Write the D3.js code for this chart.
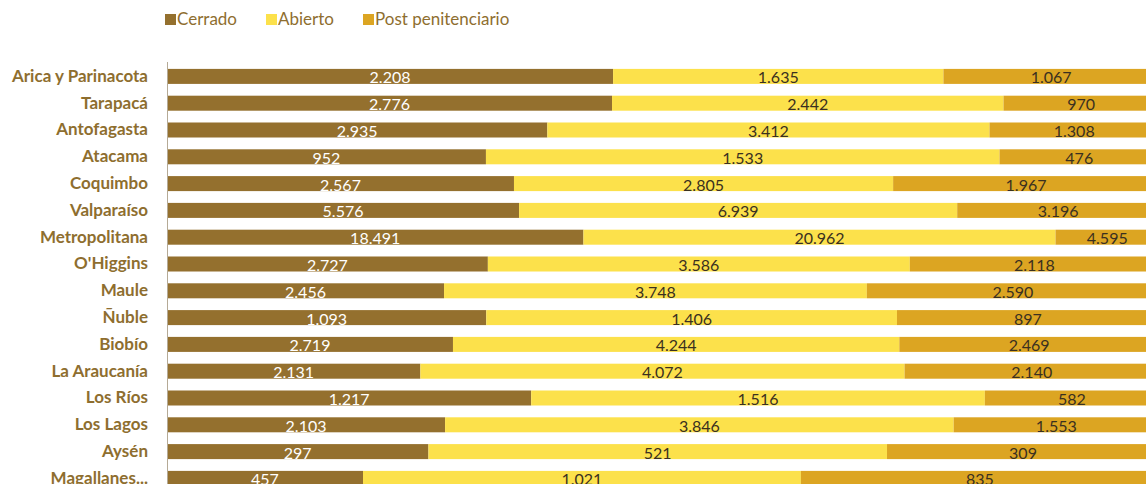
<!DOCTYPE html>
<html>
<head>
<meta charset="utf-8">
<script src="https://cdn.jsdelivr.net/npm/d3@7"></script>
<style>
  body { margin: 0; background: #fff; }
  svg { display: block; overflow: hidden; }
</style>
</head>
<body>
<script>
var width = 1146;
var height = 484;

var regions = ['Arica y Parinacota', 'Tarapacá', 'Antofagasta', 'Atacama', 'Coquimbo',
  'Valparaíso', 'Metropolitana', "O'Higgins", 'Maule', 'Ñuble', 'Biobío',
  'La Araucanía', 'Los Ríos', 'Los Lagos', 'Aysén', 'Magallanes...'];
var cerrado = [2208, 2776, 2935, 952, 2567, 5576, 18491, 2727, 2456, 1093, 2719, 2131, 1217, 2103, 297, 457];
var abierto = [1635, 2442, 3412, 1533, 2805, 6939, 20962, 3586, 3748, 1406, 4244, 4072, 1516, 3846, 521, 1021];
var post = [1067, 970, 1308, 476, 1967, 3196, 4595, 2118, 2590, 897, 2469, 2140, 582, 1553, 309, 835];
var seriesNames = ['Cerrado', 'Abierto', 'Post penitenciario'];
var colors = ['#94702e', '#fce14b', '#dca522'];
var textColors = ['#ffffff', '#3a3020', '#3a3020'];

var locale = d3.formatLocale({decimal: ',', thousands: '.', grouping: [3], currency: ['$', '']});
var fmt = locale.format(',d');

var svg = d3.select('body').append('svg')
  .attr('width', width)
  .attr('height', height);

var x = d3.scaleLinear().domain([0, 1]).range([167, 1159]);
var y = d3.scaleBand().domain(regions).range([63, 63 + 16 * 26.8]).paddingInner(0.44).paddingOuter(0.22);

var rows = regions.map(function(r, i) {
  var vals = [cerrado[i], abierto[i], post[i]];
  var total = d3.sum(vals);
  var acc = 0;
  return vals.map(function(v, k) {
    var seg = {region: r, k: k, value: v, x0: acc / total, x1: (acc + v) / total};
    acc += v;
    return seg;
  });
});

var segs = svg.append('g').selectAll('g')
  .data(rows)
  .join('g');

segs.selectAll('rect')
  .data(function(d) { return d; })
  .join('rect')
  .attr('x', function(d) { return x(d.x0); })
  .attr('y', function(d) { return y(d.region); })
  .attr('width', function(d) { return x(d.x1) - x(d.x0); })
  .attr('height', y.bandwidth())
  .attr('fill', function(d) { return colors[d.k]; });

segs.selectAll('text')
  .data(function(d) { return d; })
  .join('text')
  .attr('x', function(d) { return (x(d.x0) + x(d.x1)) / 2; })
  .attr('y', function(d) { return y(d.region) + y.bandwidth() - 0.5; })
  .attr('text-anchor', 'middle')
  .attr('font-family', 'Lato, sans-serif')
  .attr('font-size', 16)
  .attr('fill', function(d) { return textColors[d.k]; })
  .text(function(d) { return fmt(d.value); });

// category axis
var yAxis = svg.append('g')
  .attr('transform', 'translate(167,0)')
  .call(d3.axisLeft(y).tickSize(0).tickPadding(19));
yAxis.select('.domain')
  .attr('stroke', '#b5aa96')
  .attr('d', 'M0.5,62V' + height);
yAxis.selectAll('text')
  .attr('font-family', 'Lato, sans-serif')
  .attr('font-weight', 'bold')
  .attr('font-size', 17)
  .attr('fill', '#8e6e2f');

// legend
var legendX = [165, 266, 363];
var legend = svg.append('g').selectAll('g')
  .data(seriesNames)
  .join('g')
  .attr('transform', function(d, i) { return 'translate(' + legendX[i] + ',0)'; });
legend.append('rect')
  .attr('y', 14)
  .attr('width', 11)
  .attr('height', 11)
  .attr('fill', function(d, i) { return colors[i]; });
legend.append('text')
  .attr('x', 12)
  .attr('y', 25)
  .attr('font-family', 'Lato, sans-serif')
  .attr('font-size', 17)
  .attr('fill', '#8e6e2f')
  .text(function(d) { return d; });
</script>
</body>
</html>
